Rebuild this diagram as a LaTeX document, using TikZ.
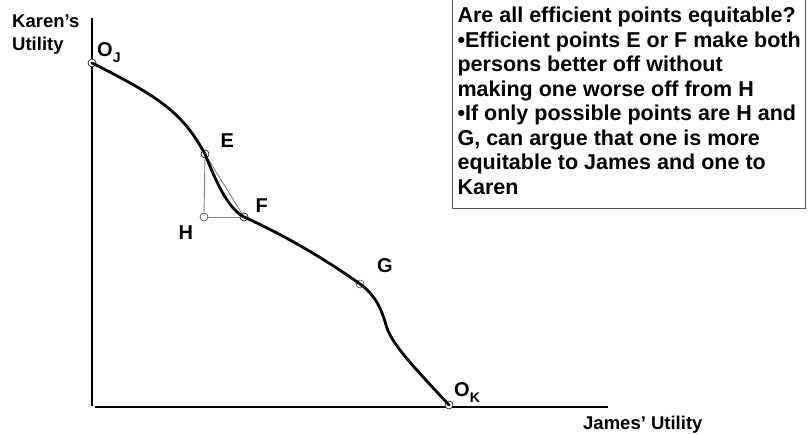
\documentclass[tikz,border=0pt]{standalone}
\usepackage{fontspec}
\setmainfont{Liberation Sans}[Ligatures=NoCommon]
\usepackage{xcolor}
\usetikzlibrary{positioning,calc}
\definecolor{ink}{HTML}{000000}
\definecolor{inkgray}{HTML}{808080}
\definecolor{boxgray}{HTML}{595959}
\newcommand{\lowsub}[1]{\raisebox{-6pt}{\fontsize{14}{14}\selectfont #1}}
\tikzset{
  axisline/.style={draw=ink,line width=2.6pt},
  frontier/.style={draw=ink,line width=2.8pt,line cap=round},
  guide/.style={draw=inkgray,line width=0.9pt},
  dot/.style={circle,draw=ink,fill=white,line width=0.6pt,
              minimum size=8pt,inner sep=0pt},
  ptlabel/.style={font=\fontsize{20}{20}\selectfont\bfseries,
                  inner sep=0pt,anchor=base west},
  axlabel/.style={font=\fontsize{18.5}{23}\selectfont\bfseries,
                  inner sep=0pt,align=left},
  notebox/.style={draw=boxgray,line width=1.2pt,fill=white,
                  align=left,inner xsep=5pt,inner ysep=14pt,
                  font=\fontsize{21.5}{24.5}\selectfont\bfseries}
}

\begin{document}
\begin{tikzpicture}[x=1pt,y=1pt]
  \useasboundingbox (0,0) rectangle (811,435);
  % question card, top edge runs off the page
  \node[notebox,anchor=south west] (note) at (452,226)
    {Are all efficient points equitable?\\
     •Efficient points E or F make both\\
     persons better off without\\
     making one worse off from H\\
     •If only possible points are H and\\
     G, can argue that one is more\\
     equitable to James and one to\\
     Karen};
  % axes
  \coordinate (ytop) at (92,417);
  \coordinate (ybot) at (92,29);
  \coordinate (xleft) at (95,28);
  \coordinate (xright) at (608,28);
  \draw[axisline] (ytop) -- (ybot);
  \draw[axisline] (xleft) -- (xright);
  \node[axlabel,anchor=north west] (ylab) at (12,420.5) {Karen’s\\Utility};
  \node[axlabel,anchor=base west] (xlab) at (583,5) {James’ Utility};
  % points on and under the frontier
  \node[dot] (oj) at (92,372) {};
  \node[dot] (e) at (205,281) {};
  \node[dot] (f) at (244,218) {};
  \node[dot,draw=ink!75] (h) at (204,218) {};
  \node[dot,draw=ink!70] (g) at (360,151) {};
  \node[dot] (ok) at (449,30) {};
  \coordinate (bend) at (386,110);
  % the triangle E-H-F
  \draw[guide] (e) -- (h);
  \draw[guide] (h) -- (f);
  \draw[guide] (e.center) -- (f.center);
  % utility possibility frontier
  \draw[frontier] (oj.center) .. controls (162,337) and (183,321) .. (e.center)
    .. controls (215,256) and (227,227) .. (f.center)
    .. controls (284,200) and (325,176) .. (g.center)
    .. controls (374,141) and (381,128) .. (bend)
    .. controls (391,92) and (410,72) .. (ok.center);
  % letters
  \node[ptlabel] (ojlab) at (97,378) {O\lowsub{J}};
  \node[ptlabel] (elab) at (220.5,287) {E};
  \node[ptlabel] (flab) at (255.5,222) {F};
  \node[ptlabel] (hlab) at (178.5,195) {H};
  \node[ptlabel] (glab) at (377,162) {G};
  \node[ptlabel] (oklab) at (454,38) {O\lowsub{K}};
\end{tikzpicture}
\end{document}
